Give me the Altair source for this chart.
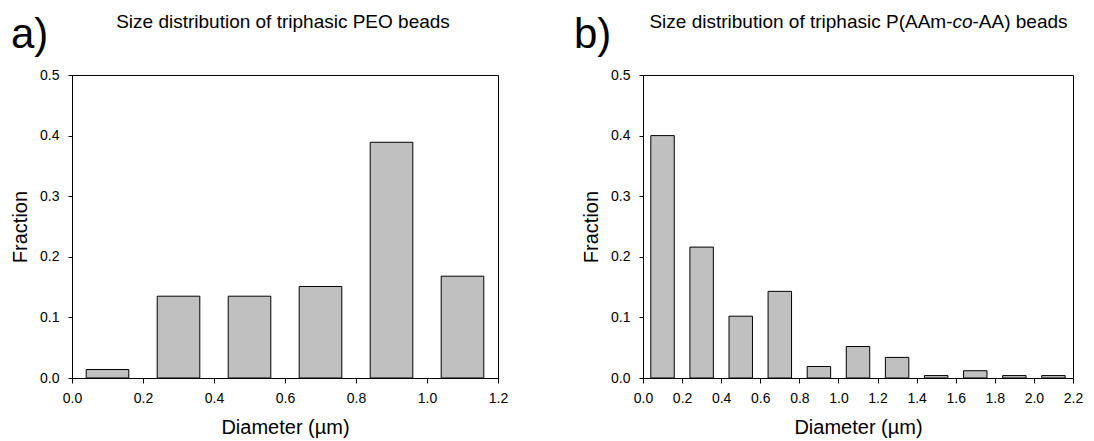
import altair as alt
import pandas as pd

# Triphasic PEO beads: bin centre diameter (µm) and fraction of beads in the bin
peo_diameter = [0.1, 0.3, 0.5, 0.7, 0.9, 1.1]
peo_fraction = [0.014, 0.135, 0.135, 0.151, 0.389, 0.168]

# Triphasic P(AAm-co-AA) beads
paa_diameter = [0.1, 0.3, 0.5, 0.7, 0.9, 1.1, 1.3, 1.5, 1.7, 1.9, 2.1]
paa_fraction = [0.400, 0.216, 0.102, 0.143, 0.019, 0.052, 0.034, 0.004, 0.012, 0.004, 0.004]

# Axis tick values
fraction_ticks = [0.0, 0.1, 0.2, 0.3, 0.4, 0.5]
peo_ticks = [0.0, 0.2, 0.4, 0.6, 0.8, 1.0, 1.2]
paa_ticks = [0.0, 0.2, 0.4, 0.6, 0.8, 1.0, 1.2, 1.4, 1.6, 1.8, 2.0, 2.2]

BAR_WIDTH = 0.12  # drawn width of each histogram bar, in µm
FONT = "Liberation Sans"
PLOT_H = 303
TITLE_SIZE = 19
LETTER_SIZE = 42


def label(text, x, y, size, align="left", style="normal", weight="normal"):
    return alt.Chart(pd.DataFrame({"t": [text]})).mark_text(
        align=align, baseline="alphabetic", font=FONT, fontSize=size,
        fontStyle=style, fontWeight=weight, color="black",
    ).encode(x=alt.value(x), y=alt.value(y), text="t:N")


def histogram(diameter, fraction, ticks, width):
    df = pd.DataFrame({"diameter": diameter, "fraction": fraction})
    return alt.Chart(df).transform_calculate(
        lo=f"datum.diameter - {BAR_WIDTH / 2}",
        hi=f"datum.diameter + {BAR_WIDTH / 2}",
    ).mark_rect(fill="#c0c0c0", stroke="black", strokeWidth=1).encode(
        x=alt.X(
            "lo:Q",
            scale=alt.Scale(domain=[ticks[0], ticks[-1]], nice=False, zero=False),
            axis=alt.Axis(
                values=ticks, format=".1f", title="Diameter (µm)",
                tickSize=5, labelPadding=8, titlePadding=12,
                labelFlush=False, labelOverlap=False,
            ),
        ),
        x2="hi:Q",
        y=alt.Y(
            "fraction:Q",
            scale=alt.Scale(domain=[0, 0.5], nice=False),
            axis=alt.Axis(
                values=fraction_ticks, format=".1f", title="Fraction",
                tickSize=4, labelPadding=9, titlePadding=9,
                labelFlush=False, labelOverlap=False,
            ),
        ),
    ).properties(width=width, height=PLOT_H)


panel_a = alt.layer(
    histogram(peo_diameter, peo_fraction, peo_ticks, 426),
    label("a)", -61, -27.5, LETTER_SIZE),
    label("Size distribution of triphasic PEO beads", 211, -47.5, TITLE_SIZE, align="center"),
)

panel_b = alt.layer(
    histogram(paa_diameter, paa_fraction, paa_ticks, 430),
    label("b)", -69, -27.5, LETTER_SIZE),
    label("Size distribution of triphasic P(AAm-", 309.5, -47.5, TITLE_SIZE, align="right"),
    label("co", 309.5, -47.5, TITLE_SIZE, style="italic"),
    label("-AA) beads", 329.5, -47.5, TITLE_SIZE),
)

chart = alt.hconcat(panel_a, panel_b, spacing=145, bounds="flush").properties(
    padding={"left": 10, "top": 12, "right": 0, "bottom": 0},
    background="white",
).configure_view(
    stroke="black", strokeWidth=1,
).configure_axis(
    grid=False,
    domainColor="black", domainWidth=1,
    tickColor="black", tickWidth=1,
    labelColor="black", labelFont=FONT, labelFontSize=14,
    titleColor="black", titleFont=FONT, titleFontSize=20, titleFontWeight="normal",
)

chart.save("out.html", embed_options={"renderer": "svg", "actions": False})
